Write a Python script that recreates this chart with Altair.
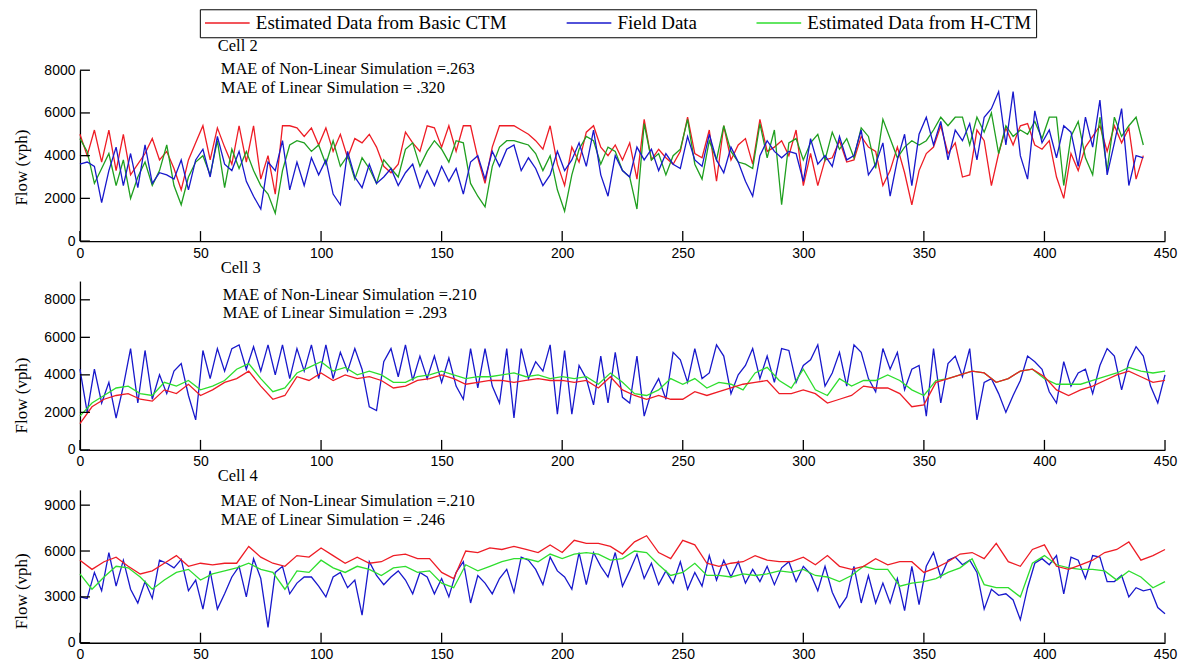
import altair as alt
import pandas as pd

SERIES = ["Estimated Data from Basic CTM", "Field Data", "Estimated Data from H-CTM"]
RED = "#ee1c25"
BLUE = "#1818cc"
GREEN = "#2ede2e"
GREEN_DARK = "#1f9f1f"
SERIF = "Liberation Serif"

X_TICKS = [0, 50, 100, 150, 200, 250, 300, 350, 400, 450]
Y_TICKS_C2 = [0, 2000, 4000, 6000, 8000]
Y_TICKS_C3 = [0, 2000, 4000, 6000, 8000]
Y_TICKS_C4 = [0, 3000, 6000, 9000]

# time steps at which values were read
cell2_t = list(range(0, 442, 3))
dense_t = list(range(0, 451, 3))
smooth_t = list(range(0, 451, 5))

# ---------------- Cell 2 ----------------
cell2_basic = [
    5000, 4000, 5200, 3700, 5200, 3300, 5000, 3100, 3600, 4100,
    4800, 3800, 4200, 3400, 2400, 3800, 4600, 5400, 3800, 5300,
    4400, 3600, 5400, 3700, 5400, 2900, 4000, 2200, 5400, 5400,
    5300, 4900, 5300, 4500, 5300, 4200, 5000, 3900, 4800, 4600,
    5000, 4400, 3500, 3200, 3600, 5100, 4600, 4200, 5400, 5300,
    4400, 5400, 4200, 5400, 5400, 3900, 2700, 4400, 5400, 5400,
    5400, 5200, 5000, 4700, 4300, 5400, 3600, 2600, 4400, 3700,
    5100, 5400, 4400, 4000, 4500, 3800,
    4600, 2900, 5700, 3800, 4300, 3900, 3600, 4200, 5800, 4100,
    3900, 5200, 2800, 5400, 3800, 4500, 4800, 3600, 5700, 4200,
    4400, 4700, 4000, 5200, 2600, 4100, 2600, 3800, 3900, 4700,
    3700, 3800, 4900, 4400, 4200, 2600, 3300, 4400, 3200, 1700,
    3300, 4100, 4400, 5400, 4100, 4600, 3000, 3100, 5200, 4700,
    2600, 4100, 5300, 4500, 5400, 5500, 4500, 4300, 4700, 3000,
    2000, 4100, 3300, 4400, 4900, 5400, 4200, 5400, 4600, 5300,
    2900, 4000,
]
cell2_field = [
    3600, 3700, 3500, 1800, 3300, 4400, 2600, 4100, 2500, 4500,
    2700, 3200, 3100, 2900, 3800, 2400, 3800, 4300, 3000, 4900,
    3600, 3300, 4200, 2800, 2100, 1500, 3700, 3300, 4700, 2400,
    3700, 2600, 3900, 3100, 3800, 2200, 1700, 4200, 3000, 2500,
    3600, 2700, 3000, 3400, 2600, 3200, 3600, 2500, 3300, 2600,
    3500, 2800, 3400, 2200, 3700, 4000, 2900, 4200, 3500, 4300,
    4500, 3300, 3900, 3400, 2600, 3100, 4200, 3300, 3800, 4600,
    3500, 5200, 3100, 2100, 4000, 3300,
    3000, 4400, 3800, 4300, 3300, 4100, 3600, 3400, 4900, 3800,
    3500, 5000, 3800, 3200, 4400, 3700, 2800, 2100, 4000, 4700,
    4200, 3900, 4200, 4100, 2800, 4800, 3600, 4000, 3500, 4900,
    3800, 4000, 5200, 3100, 3600, 4600, 2100, 3800, 5000, 2600,
    5000, 5800, 4500, 5600, 3800, 5200, 4700, 5500, 3800, 5800,
    6200, 7000, 4500, 7000, 4000, 2900, 6100, 4600, 5200, 3900,
    5400, 5100, 3500, 5800, 4400, 6600, 3100, 4600, 6200, 2600,
    4000, 3900,
]
cell2_hctm = [
    4800, 4200, 2700, 3400, 4100, 2600, 3800, 2000, 3000, 3700,
    2600, 3300, 4500, 2600, 1700, 3000, 3700, 4000, 3100, 4700,
    2500, 4300, 3400, 4200, 3300, 2600, 2200, 1300, 3300, 4500,
    4700, 4600, 4200, 4500, 3600, 4700, 3500, 4000, 2900, 3900,
    3400, 2700, 3800, 3400, 3000, 4300, 4600, 3500, 4200, 4700,
    4300, 3700, 4700, 4600, 2700, 2100, 1600, 3500, 4400, 4700,
    4700, 4600, 4500, 4100, 3300, 4000, 2400, 1400, 3100, 4300,
    4900, 4700, 3600, 4400, 4200, 3300,
    3000, 1500, 5500, 3800, 4100, 3100, 4000, 4300, 5700, 3600,
    2900, 4700, 3800, 5400, 4200, 3700, 3600, 3400, 5500, 3900,
    5200, 1700, 4600, 4800, 3800, 4600, 5000, 3800, 5100, 4300,
    4800, 3900, 5300, 4900, 3400, 5700, 4800, 3900, 4400, 4700,
    4500, 4700, 5200, 5800, 5400, 5800, 5800, 4500, 5800, 5100,
    6000, 4100, 5400, 4900, 5200, 5000, 5600, 4800, 5800, 5800,
    2600, 4900, 5600, 3900, 3100, 5800, 3300, 5800, 4900, 5400,
    5800, 4500,
]

# ---------------- Cell 3 ----------------
cell3_field = [
    4300, 2000, 4300, 2500, 3600, 1700, 3400, 5400, 2500, 5300,
    2700, 4000, 3000, 4200, 4600, 2900, 1600, 5300, 3800, 5400,
    4200, 5400, 5600, 4300, 5500, 4200, 5600, 4000, 5600, 3800,
    5400, 4200, 5600, 3800, 5600, 3800, 5200, 4200, 5400, 4300,
    2300, 2100, 4700, 5400, 3900, 5600, 3700, 5000, 3800, 5000,
    3600, 4900, 3400, 2700, 5400, 3300, 5400, 3400, 2500, 5400,
    1700, 5400, 3800, 4700, 4200, 5600, 1900, 5300, 1900, 4500,
    3800, 2400, 5000, 2500, 5200, 2800,
    2500, 5000, 1800, 3100, 3800, 2700, 5200, 4800, 3600, 5400,
    3800, 4100, 5600, 5000, 3000, 4000, 4500, 5400, 3800, 5000,
    3600, 5400, 5300, 3600, 4500, 4800, 5600, 3400, 4100, 5200,
    3400, 5600, 5200, 3800, 3100, 5400, 4300, 5200, 3200, 4300,
    4500, 1800, 5400, 2500, 4600, 5000, 3900, 5400, 1600, 3600,
    3800, 3000, 2000, 2900, 3700, 5000, 4700, 4300, 3100, 2500,
    4700, 3400, 4100, 4300, 3000, 4500, 5400, 5000, 3200, 4700,
    5500, 5000, 3400, 2500, 4000,
]
cell3_basic = [
    1400, 2300, 2700, 2900, 3000, 2700, 2600, 3200, 3000, 3500,
    2900, 3200, 3600, 3800, 4200, 3400, 2700, 2900, 3900, 3700,
    4100, 3700, 4000, 3800, 3900, 3700, 3300, 3400, 3700, 3800,
    4000, 3800, 3500, 3600, 3700, 3700, 3600, 3700, 3800, 3700,
    3700, 3600, 3700, 3300, 3900, 3200,
    2900, 2700, 2900, 2700, 2700, 3100, 2900, 3100, 3300, 3500,
    3600, 3700, 3000, 3000, 3200, 3000, 2500, 2700, 2900, 3400,
    3300, 3300, 3000, 2300, 2400, 3600, 3800, 4000, 4200, 4100,
    3600, 3800, 4200, 4300, 3900, 3200, 2900, 3200, 3400, 3700,
    4000, 4200, 3900, 3600, 3700,
]
cell3_hctm = [
    1800, 2500, 2900, 3300, 3400, 3000, 2900, 3600, 3400, 3700,
    3200, 3400, 3700, 4300, 4600, 3800, 3100, 3300, 4100, 4400,
    4700, 4200, 4400, 4000, 4200, 4000, 3600, 3600, 3900, 4000,
    4200, 4000, 3800, 3900, 3900, 4000, 4100, 3900, 4000, 3800,
    3900, 3800, 3900, 3500, 4100, 3600,
    3000, 2900, 3200, 3800, 3500, 3800, 3300, 3600, 3500, 3200,
    4100, 4400, 3700, 3300, 4300, 3200, 2900, 3800, 3400, 3700,
    3700, 4000, 3700, 3200, 2900, 3700, 3800, 4000, 4200, 4100,
    3600, 3800, 4200, 4300, 3800, 3500, 3500, 3500, 3700, 3900,
    4100, 4400, 4200, 4100, 4200,
]

# ---------------- Cell 4 ----------------
cell4_field = [
    3000, 2900, 4600, 3400, 5900, 3700, 5400, 3500, 2600, 4000,
    2900, 5400, 5200, 4900, 5450, 3400, 4100, 2200, 4700, 2200,
    3200, 4300, 5000, 3000, 5500, 4200, 1000, 4600, 5000, 3200,
    3900, 4300, 4300, 3700, 3000, 4300, 4600, 3600, 4100, 1800,
    5300, 4400, 3800, 4300, 4700, 4100, 3200, 4600, 4300, 3200,
    4200, 3000, 4600, 5300, 2600, 4400, 3900, 3200, 4200, 4800,
    3300, 5600, 5400, 4800, 3800, 5600, 4700, 4300, 3500, 5900,
    3800, 5900, 5000, 4300, 5900, 3700,
    4700, 5800, 4200, 5200, 3800, 4700, 3900, 5300, 3500, 4600,
    3700, 5700, 4100, 5400, 4300, 5300, 3900, 4800, 4000, 5000,
    3800, 4900, 5300, 4000, 5000, 4500, 3400, 5000, 3300, 2300,
    3000, 5000, 2600, 4400, 2600, 3900, 2600, 4200, 2100, 5000,
    2500, 5000, 5900, 4300, 5400, 5600, 5100, 5400, 4600, 2200,
    3500, 3100, 3200, 2800, 1500, 3600, 5200, 5500, 5100, 5700,
    3200, 5600, 5400, 4200, 5700, 5600, 4000, 4000, 4400, 3000,
    3600, 3400, 3500, 2300, 1900,
]
cell4_basic = [
    5400, 4800, 5300, 5600, 5000, 4500, 4700, 5200, 5700, 5000,
    5200, 5100, 5200, 5200, 6300, 5600, 5200, 5000, 5700, 5600,
    6200, 5700, 5200, 5600, 5200, 5300, 5700, 5800, 5500, 5500,
    4600, 4200, 6000, 5900, 6200, 6100, 6300, 6100, 5900, 6400,
    5900, 6700, 6500, 6500, 6300, 5800,
    6600, 7000, 5900, 5500, 6700, 6400, 5200, 5000, 5200, 5300,
    5700, 5400, 5300, 5300, 5600, 5100, 5700, 5000, 4800, 5000,
    5500, 5100, 5300, 5300, 4600, 4900, 5300, 5800, 5900, 5500,
    6500, 5300, 5000, 6100, 6400, 5000, 4800, 5100, 5400, 5900,
    6100, 6600, 5400, 5700, 6100,
]
cell4_hctm = [
    4500, 3500, 4300, 5000, 4900, 4300, 3500, 4100, 4600, 4800,
    4100, 4500, 4700, 4900, 5200, 4800, 4600, 3500, 4700, 4600,
    5400, 4900, 4600, 5000, 4800, 4400, 4900, 5000, 4600, 4700,
    3900, 3600, 5100, 4700, 5000, 5300, 5500, 5500, 5300, 5800,
    5500, 5800, 5900, 5800, 5400, 5500,
    6000, 5900, 5100, 4400, 4600, 5200, 4400, 4400, 4300, 4500,
    4400, 4500, 4700, 4600, 4800, 4400, 4300, 4000, 4400, 5000,
    4800, 4800, 3700, 3900, 4000, 4200, 4600, 4900, 5500, 3800,
    3600, 3600, 3000, 5200, 5700, 5100, 4900, 4800, 4800, 4700,
    4100, 4700, 4300, 3600, 4000,
]

PANEL_W = 1086

color_scale = alt.Scale(domain=SERIES, range=[RED, BLUE, GREEN])
legend_spec = alt.Legend(
    title=None, orient="none", legendX=120, legendY=-61, direction="horizontal",
    symbolType="stroke", symbolSize=2000, symbolStrokeWidth=1.5,
    labelFont=SERIF, labelFontSize=19, labelColor="black", labelOffset=5,
    strokeColor="black", fillColor="white", padding=4, columnPadding=58,
    labelLimit=400, clipHeight=19,
)


def build_panel(specs, ymax, yticks, height, title_y, texts):
    xs = alt.Scale(domain=[0, 450], nice=False, zero=False)
    ys = alt.Scale(domain=[0, ymax], nice=False)
    x_axis = alt.Axis(values=X_TICKS, title=None, ticks=False, labelPadding=5,
                      grid=False, labelFlush=False, format="d")
    y_axis = alt.Axis(values=yticks, title="Flow (vph)", ticks=False, grid=False,
                      labelPadding=5, titlePadding=13, titleY=title_y, format="d")
    layers = []
    for t, vals, name, color in specs:
        df = pd.DataFrame({"t": t, "flow": vals, "series": [name] * len(t)})
        if color is None:
            col = alt.Color("series:N", scale=color_scale, legend=legend_spec)
        else:
            col = alt.value(color)
        layers.append(
            alt.Chart(df).mark_line(strokeWidth=1.3).encode(
                x=alt.X("t:Q", scale=xs, axis=x_axis),
                y=alt.Y("flow:Q", scale=ys, axis=y_axis),
                color=col,
            )
        )
    # inward tick marks (MATLAB style), placed with the same scales
    ytk = alt.Chart(pd.DataFrame({"flow": yticks})).mark_tick(
        orient="horizontal", size=10, thickness=1.3, color="black", opacity=1
    ).encode(y=alt.Y("flow:Q", scale=ys, axis=y_axis), x=alt.value(5))
    xtk = alt.Chart(pd.DataFrame({"t": X_TICKS})).mark_tick(
        orient="vertical", size=10, thickness=1.3, color="black", opacity=1
    ).encode(x=alt.X("t:Q", scale=xs, axis=x_axis), y=alt.value(height - 5))
    tl = []
    for s, px, py in texts:
        tl.append(
            alt.Chart(pd.DataFrame({"s": [s]})).mark_text(
                align="left", baseline="middle", font=SERIF, fontSize=16.5, color="black"
            ).encode(text="s:N", x=alt.value(px), y=alt.value(py))
        )
    return alt.layer(*layers, ytk, xtk, *tl).properties(width=PANEL_W, height=height)


p1 = build_panel(
    [
        (cell2_t, cell2_basic, SERIES[0], None),
        (cell2_t, cell2_hctm, SERIES[2], GREEN_DARK),
        (cell2_t, cell2_field, SERIES[1], None),
    ],
    8000, Y_TICKS_C2, 171, 97,
    [("Cell 2", 138, -24), ("MAE of Non-Linear Simulation =.263", 141, -1),
     ("MAE of Linear Simulation = .320", 141, 18)],
)
p2 = build_panel(
    [
        (dense_t, cell3_field, SERIES[1], BLUE),
        (smooth_t, cell3_hctm, SERIES[2], GREEN),
        (smooth_t, cell3_basic, SERIES[0], RED),
    ],
    9000, Y_TICKS_C3, 169, 114,
    [("Cell 3", 141, -13), ("MAE of Non-Linear Simulation =.210", 143, 14),
     ("MAE of Linear Simulation = .293", 143, 32)],
)
p3 = build_panel(
    [
        (dense_t, cell4_field, SERIES[1], BLUE),
        (smooth_t, cell4_hctm, SERIES[2], GREEN),
        (smooth_t, cell4_basic, SERIES[0], RED),
    ],
    10000, Y_TICKS_C4, 153, 101,
    [("Cell 4", 138, -14), ("MAE of Non-Linear Simulation =.210", 141, 11),
     ("MAE of Linear Simulation = .246", 141, 30)],
)

chart = alt.vconcat(p1, p2, p3, spacing=40, bounds="flush").properties(
    padding={"left": 4, "top": 0, "right": 4, "bottom": 0}
).configure_view(stroke=None).configure_axis(
    labelFont="Liberation Sans", labelFontSize=14, labelColor="black",
    titleFont=SERIF, titleFontSize=17, titleFontWeight="normal", titleColor="black",
    domainColor="black", domainWidth=1.3,
)

chart.save("out.html", embed_options={"renderer": "svg", "actions": False})
